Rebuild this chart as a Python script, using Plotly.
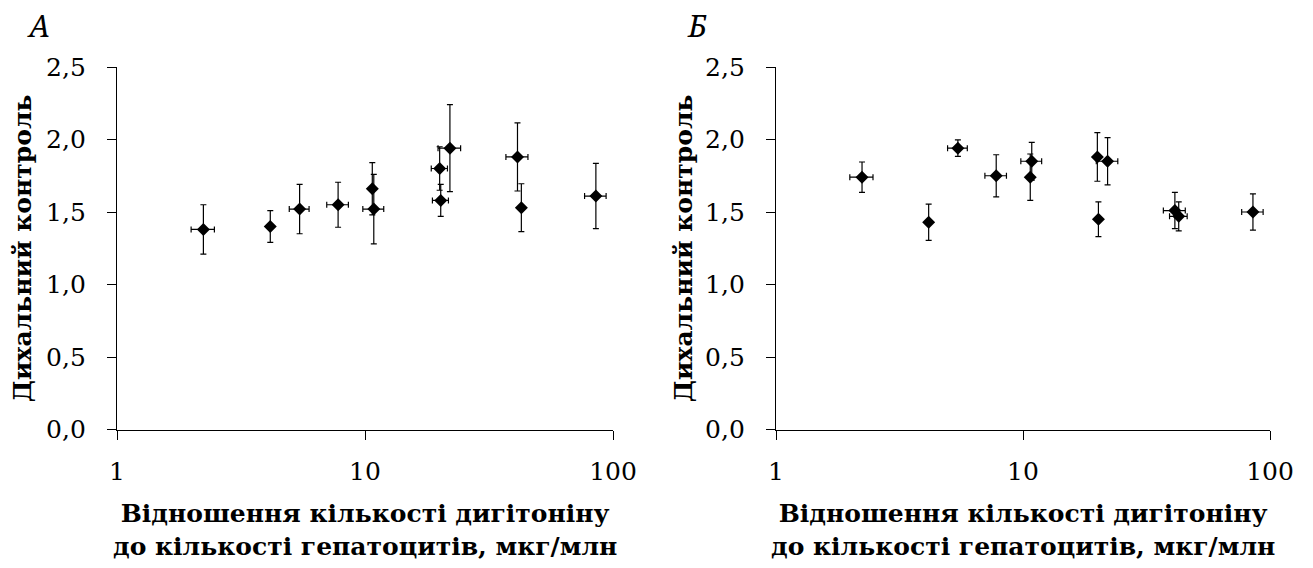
import plotly.graph_objects as go

# Digitonin / hepatocyte ratio (µg per million cells), shared by both panels
ratio = [2.23, 4.15, 5.45, 7.79, 10.7, 10.85, 20.0, 20.2, 22.0, 41.2, 42.7, 85.3]

# Panel А
rc_a = [1.38, 1.40, 1.52, 1.55, 1.66, 1.52, 1.80, 1.58, 1.94, 1.88, 1.53, 1.61]
rc_a_err = [0.17, 0.11, 0.17, 0.155, 0.18, 0.24, 0.15, 0.11, 0.30, 0.235, 0.165, 0.225]
ratio_a_err = [0.24, 0, 0.5, 0.78, 0, 1.05, 1.5, 1.5, 2.3, 4.2, 0, 8.5]

# Panel Б
rc_b = [1.74, 1.43, 1.94, 1.75, 1.74, 1.85, 1.88, 1.45, 1.85, 1.51, 1.47, 1.50]
rc_b_err = [0.105, 0.125, 0.057, 0.145, 0.16, 0.13, 0.168, 0.12, 0.163, 0.125, 0.10, 0.125]
ratio_b_err = [0.24, 0, 0.5, 0.78, 0, 1.05, 0, 0, 2.2, 4.2, 3.5, 8.5]

y_ticks = [0.0, 0.5, 1.0, 1.5, 2.0, 2.5]
x_ticks = [1, 10, 100]

panel_labels = ["А", "Б"]
y_title = "Дихальний контроль"
x_title = "Відношення кількості дигітоніну<br>до кількості гепатоцитів, мкг/млн"

FONT = "DejaVu Serif"
LETTER_FONT = "Noto Serif"
W, H = 1313, 568

fig = go.Figure()


def add_panel(y, yerr, xerr, xa, ya):
    fig.add_trace(go.Scatter(
        x=ratio, y=y, mode="markers",
        xaxis=xa, yaxis=ya,
        marker=dict(symbol="diamond", size=10, color="black", line=dict(width=0)),
        error_y=dict(type="data", array=yerr, visible=True, color="black", thickness=1.2, width=3),
        error_x=dict(type="data", array=xerr, visible=True, color="black", thickness=1.2, width=3),
        showlegend=False,
    ))


add_panel(rc_a, rc_a_err, ratio_a_err, "x", "y")
add_panel(rc_b, rc_b_err, ratio_b_err, "x2", "y2")

# plot-area placement in pixels
pa = (117, 613)
pb = (776, 1270)
top, bottom = 67, 429.5
ydom = [1 - bottom / H, 1 - top / H]

xaxis_style = dict(
    type="log", range=[0, 2], tickvals=x_ticks, ticktext=[str(v) for v in x_ticks],
    showgrid=False, zeroline=False, showline=True, linecolor="black", linewidth=1.3,
    ticks="outside", ticklen=9, tickwidth=1.3, tickcolor="black",
    tickfont=dict(family=FONT, size=25, color="black"), ticklabelstandoff=10,
    automargin=False,
)
yaxis_style = dict(
    range=[0, 2.5], tickvals=y_ticks, tickformat=".1f",
    showgrid=False, zeroline=False, showline=True, linecolor="black", linewidth=1.3,
    ticks="outside", ticklen=9, tickwidth=1.3, tickcolor="black",
    tickfont=dict(family=FONT, size=25, color="black"), ticklabelstandoff=16,
    automargin=False,
)

fig.update_layout(
    width=W, height=H,
    margin=dict(l=0, r=0, t=0, b=0),
    paper_bgcolor="white", plot_bgcolor="white",
    separators=", ",
    xaxis=dict(domain=[pa[0] / W, pa[1] / W], anchor="y", **xaxis_style),
    yaxis=dict(domain=ydom, anchor="x", **yaxis_style),
    xaxis2=dict(domain=[pb[0] / W, pb[1] / W], anchor="y2", **xaxis_style),
    yaxis2=dict(domain=ydom, anchor="x2", **yaxis_style),
)

annotations = []
for (x0, x1), letter, lx, tx in [(pa, panel_labels[0], 38, 22), (pb, panel_labels[1], 697, 683)]:
    cx = (x0 + x1) / 2
    # x-axis title, two lines
    annotations.append(dict(
        text=x_title, x=cx / W, y=1 - 530 / H, xref="paper", yref="paper",
        xanchor="center", yanchor="middle", showarrow=False, align="center",
        font=dict(family=FONT, size=25, color="black", weight="bold"),
    ))
    # y-axis title, rotated
    annotations.append(dict(
        text=y_title, x=tx / W, y=1 - ((top + bottom) / 2) / H, xref="paper", yref="paper",
        xanchor="center", yanchor="middle", showarrow=False, textangle=-90,
        font=dict(family=FONT, size=25, color="black", weight="bold"),
    ))
    # panel letter
    annotations.append(dict(
        text=f"<i>{letter}</i>", x=lx / W, y=1 - 25 / H, xref="paper", yref="paper",
        xanchor="center", yanchor="middle", showarrow=False,
        font=dict(family=LETTER_FONT, size=30, color="black"),
    ))

fig.update_layout(annotations=annotations)

fig.write_html("out.html")
